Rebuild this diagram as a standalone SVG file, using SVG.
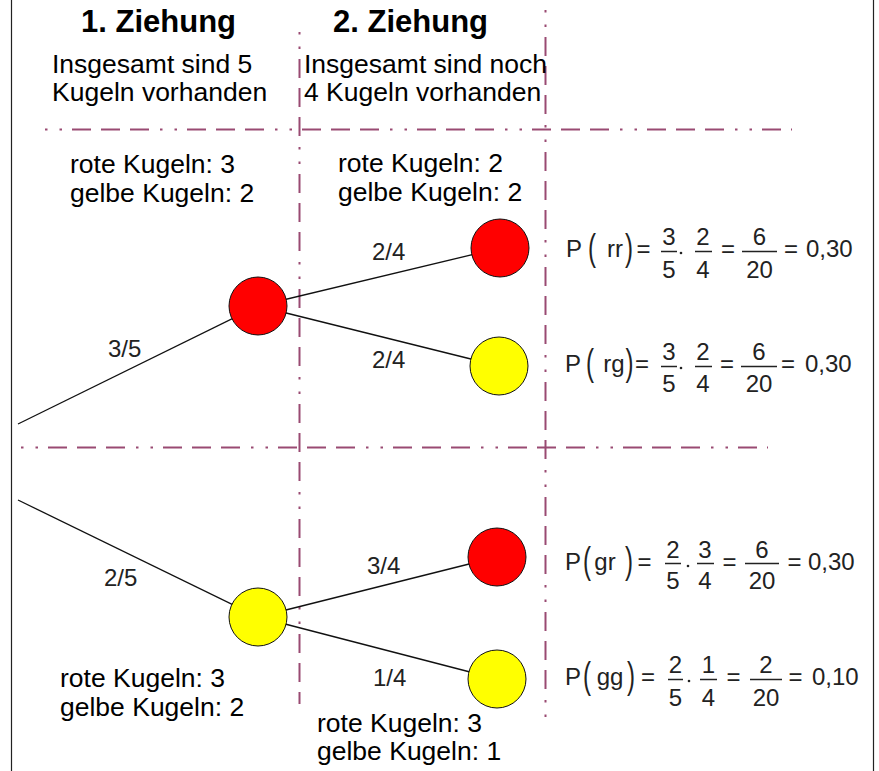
<svg xmlns="http://www.w3.org/2000/svg" width="879" height="771" viewBox="0 0 879 771">
<style>
.frame{stroke:#222;stroke-width:1.2;fill:none}
.dl{stroke:#994a72;stroke-width:2;fill:none;stroke-dasharray:2.5 12 2.5 10 19 10 19 10 19 11}
.edge{stroke:#111;stroke-width:1.3;fill:none}
.red{fill:#ff0000;stroke:#111;stroke-width:1}
.yel{fill:#ffff00;stroke:#111;stroke-width:1}
.title{font-family:"Liberation Sans",Arial,sans-serif;font-weight:bold;font-size:31px;fill:#000;text-anchor:middle}
.t{font-family:"Liberation Sans",Arial,sans-serif;font-size:26.5px;fill:#000}
.lbl{font-family:"Liberation Sans",Arial,sans-serif;font-size:24px;fill:#222}
.f{font-family:"Liberation Sans",Arial,sans-serif;font-size:24px;fill:#222;text-anchor:middle}
.fs{font-family:"Liberation Sans",Arial,sans-serif;font-size:24px;fill:#222}
.bar{stroke:#222;stroke-width:1.5}
.dot{fill:#222}
</style>
<rect width="879" height="771" fill="#fff"/>
<line class="frame" x1="11.5" y1="0" x2="11.5" y2="771"/>
<line class="frame" x1="873.5" y1="0" x2="873.5" y2="771"/>
<g id="grid">
<line class="dl" x1="45" y1="129.5" x2="792" y2="129.5"/>
<line class="dl" x1="21" y1="447.5" x2="768" y2="447.5"/>
<line class="dl" x1="299.5" y1="32" x2="299.5" y2="704"/>
<line class="dl" x1="545.5" y1="10" x2="545.5" y2="720"/>
</g>
<g id="connectors">
<line class="edge" x1="18" y1="424" x2="258" y2="306"/>
<line class="edge" x1="18" y1="500" x2="258" y2="617"/>
<line class="edge" x1="258" y1="306" x2="500" y2="248"/>
<line class="edge" x1="258" y1="306" x2="499" y2="366"/>
<line class="edge" x1="258" y1="617" x2="497" y2="557"/>
<line class="edge" x1="258" y1="617" x2="497" y2="679"/>
</g>
<g id="edge-labels">
<text class="lbl" x="108" y="357">3/5</text>
<text class="lbl" x="372" y="260">2/4</text>
<text class="lbl" x="372" y="368">2/4</text>
<text class="lbl" x="104" y="586">2/5</text>
<text class="lbl" x="367" y="574">3/4</text>
<text class="lbl" x="373" y="686">1/4</text>
</g>
<g id="n-r1"><circle class="red" cx="258" cy="306" r="29"/></g>
<g id="n-y2"><circle class="yel" cx="258" cy="617" r="29"/></g>
<g id="n-rr"><circle class="red" cx="500" cy="248" r="29"/></g>
<g id="n-rg"><circle class="yel" cx="499" cy="366" r="29"/></g>
<g id="n-gr"><circle class="red" cx="497" cy="557" r="29"/></g>
<g id="n-gg"><circle class="yel" cx="497" cy="679" r="29"/></g>
<g id="headers">
<text class="title" x="158.5" y="32">1. Ziehung</text>
<text class="title" x="410.5" y="32">2. Ziehung</text>
<text class="t" x="52" y="73">Insgesamt sind 5</text>
<text class="t" x="52" y="101">Kugeln vorhanden</text>
<text class="t" x="304" y="73">Insgesamt sind noch</text>
<text class="t" x="304" y="101">4 Kugeln vorhanden</text>
</g>
<g id="counts">
<text class="t" x="70" y="173">rote Kugeln: 3</text>
<text class="t" x="70" y="202">gelbe Kugeln: 2</text>
<text class="t" x="338" y="172">rote Kugeln: 2</text>
<text class="t" x="338" y="201">gelbe Kugeln: 2</text>
<text class="t" x="60" y="687">rote Kugeln: 3</text>
<text class="t" x="60" y="716">gelbe Kugeln: 2</text>
<text class="t" x="317" y="732">rote Kugeln: 3</text>
<text class="t" x="317" y="760">gelbe Kugeln: 1</text>
</g>
<g id="formula-rr">
<text class="f" x="574" y="257">P</text>
<text class="f" transform="translate(592,260) scale(1,1.55)">(</text>
<text class="f" x="615" y="257">rr</text>
<text class="f" transform="translate(629,260) scale(1,1.55)">)</text>
<text class="f" x="643.5" y="257">=</text>
<text class="f" x="669" y="245">3</text><line class="bar" x1="661" y1="251.5" x2="677" y2="251.5"/><text class="f" x="669" y="278">5</text>
<circle class="dot" cx="681" cy="253" r="1.3"/>
<text class="f" x="703" y="245">2</text><line class="bar" x1="695" y1="251.5" x2="712" y2="251.5"/><text class="f" x="703" y="278">4</text>
<text class="f" x="728" y="257">=</text>
<text class="f" x="759.5" y="245">6</text><line class="bar" x1="742" y1="251.5" x2="777" y2="251.5"/><text class="f" x="759.5" y="278">20</text>
<text class="f" x="791" y="257">=</text>
<text class="fs" x="806" y="257">0,30</text>
</g>
<g id="formula-rg">
<text class="f" x="573" y="372">P</text>
<text class="f" transform="translate(590,375) scale(1,1.55)">(</text>
<text class="f" x="614" y="372">rg</text>
<text class="f" transform="translate(629.5,375) scale(1,1.55)">)</text>
<text class="f" x="642" y="372">=</text>
<text class="f" x="669" y="360">3</text><line class="bar" x1="661" y1="366.5" x2="677" y2="366.5"/><text class="f" x="669" y="392">5</text>
<circle class="dot" cx="681" cy="368" r="1.3"/>
<text class="f" x="703" y="360">2</text><line class="bar" x1="695" y1="366.5" x2="712" y2="366.5"/><text class="f" x="703" y="392">4</text>
<text class="f" x="727" y="372">=</text>
<text class="f" x="759" y="360">6</text><line class="bar" x1="741" y1="366.5" x2="777" y2="366.5"/><text class="f" x="759" y="392">20</text>
<text class="f" x="788" y="372">=</text>
<text class="fs" x="805" y="372">0,30</text>
</g>
<g id="formula-gr">
<text class="f" x="573" y="570">P</text>
<text class="f" transform="translate(587,573) scale(1,1.55)">(</text>
<text class="f" x="605" y="570">gr</text>
<text class="f" transform="translate(629,573) scale(1,1.55)">)</text>
<text class="f" x="644.5" y="570">=</text>
<text class="f" x="673" y="558">2</text><line class="bar" x1="665" y1="563.5" x2="681" y2="563.5"/><text class="f" x="673" y="589">5</text>
<circle class="dot" cx="688" cy="566" r="1.3"/>
<text class="f" x="705" y="558">3</text><line class="bar" x1="697" y1="563.5" x2="714" y2="563.5"/><text class="f" x="705" y="589">4</text>
<text class="f" x="729.5" y="570">=</text>
<text class="f" x="762" y="558">6</text><line class="bar" x1="745" y1="563.5" x2="779" y2="563.5"/><text class="f" x="762" y="589">20</text>
<text class="f" x="794.5" y="570">=</text>
<text class="fs" x="808" y="570">0,30</text>
</g>
<g id="formula-gg">
<text class="f" x="573" y="685">P</text>
<text class="f" transform="translate(587,688) scale(1,1.55)">(</text>
<text class="f" x="610" y="685">gg</text>
<text class="f" transform="translate(631,688) scale(1,1.55)">)</text>
<text class="f" x="648" y="685">=</text>
<text class="f" x="675.5" y="673">2</text><line class="bar" x1="668" y1="679.5" x2="683" y2="679.5"/><text class="f" x="675.5" y="706">5</text>
<circle class="dot" cx="689" cy="681" r="1.3"/>
<text class="f" x="708.5" y="673">1</text><line class="bar" x1="700" y1="679.5" x2="717" y2="679.5"/><text class="f" x="708.5" y="706">4</text>
<text class="f" x="733.5" y="685">=</text>
<text class="f" x="766" y="673">2</text><line class="bar" x1="750" y1="679.5" x2="782" y2="679.5"/><text class="f" x="766" y="706">20</text>
<text class="f" x="795.5" y="685">=</text>
<text class="fs" x="812" y="685">0,10</text>
</g>
</svg>
